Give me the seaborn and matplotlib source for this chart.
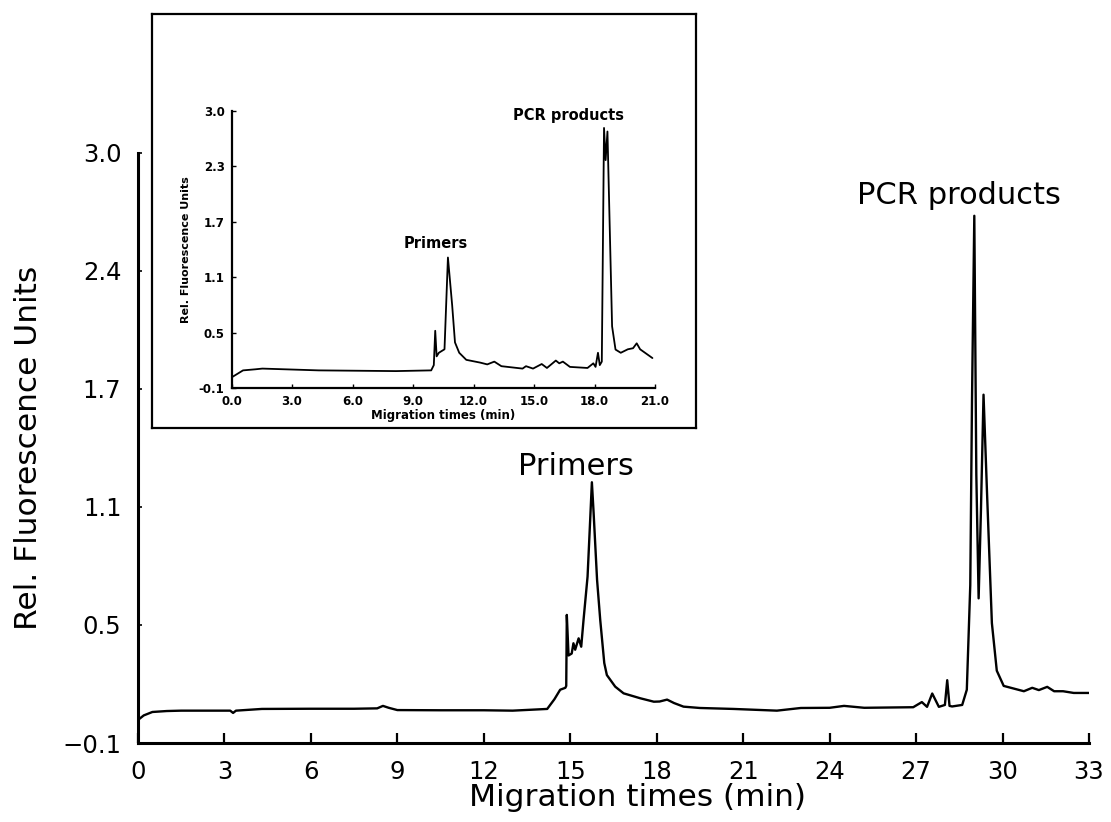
import matplotlib
matplotlib.use("Agg")
import matplotlib.pyplot as plt
import seaborn as sns

# main electropherogram (33 min run)
main_time = [0.0, 0.2, 0.5, 1.0, 1.5, 2.5, 3.2, 3.3, 3.4, 4.3, 6.0, 7.5, 8.3, 8.5, 8.7,
             9.0, 10.5, 12.0, 13.0, 14.2, 14.45, 14.65, 14.83, 14.86, 14.88, 14.94, 15.05,
             15.11, 15.17, 15.29, 15.38, 15.46, 15.6, 15.69, 15.75, 15.81, 15.93, 16.04,
             16.18, 16.27, 16.56, 16.85, 17.43, 17.9, 18.1, 18.36, 18.6, 18.93, 19.5, 20.66,
             22.17, 23.0, 24.0, 24.5, 25.2, 26.9, 27.2, 27.38, 27.56, 27.79, 28.0, 28.08,
             28.16, 28.25, 28.6, 28.76, 28.88, 28.94, 29.02, 29.09, 29.17, 29.25, 29.34,
             29.46, 29.63, 29.8, 30.04, 30.39, 30.74, 31.03, 31.26, 31.55, 31.79, 32.1,
             32.47, 33.0]
main_signal = [0.021, 0.045, 0.063, 0.068, 0.07, 0.07, 0.07, 0.058, 0.07, 0.079, 0.08, 0.08,
               0.082, 0.095, 0.085, 0.073, 0.072, 0.072, 0.07, 0.079, 0.13, 0.18, 0.19, 0.2,
               0.573, 0.36, 0.37, 0.424, 0.39, 0.45, 0.406, 0.546, 0.774, 1.07, 1.27, 1.11,
               0.757, 0.546, 0.32, 0.257, 0.196, 0.161, 0.135, 0.117, 0.118, 0.128, 0.11,
               0.091, 0.084, 0.079, 0.07, 0.084, 0.085, 0.095, 0.085, 0.088, 0.115, 0.09,
               0.16, 0.09, 0.1, 0.23, 0.095, 0.092, 0.1, 0.18, 0.73, 1.7, 2.67, 1.31, 0.66,
               1.12, 1.73, 1.22, 0.53, 0.28, 0.2, 0.186, 0.172, 0.19, 0.178, 0.195, 0.172,
               0.172, 0.163, 0.163]

# inset electropherogram (21 min run)
inset_time = [0.0, 0.57, 1.18, 1.53, 4.32, 8.15, 9.9, 10.03, 10.1, 10.17, 10.28, 10.56,
              10.73, 10.94, 11.08, 11.29, 11.64, 12.33, 12.68, 13.03, 13.38, 14.43, 14.6,
              14.95, 15.38, 15.64, 16.08, 16.25, 16.43, 16.78, 17.65, 17.94, 18.05, 18.17,
              18.26, 18.36, 18.47, 18.55, 18.64, 18.87, 19.04, 19.3, 19.65, 19.91, 20.09,
              20.26, 20.87]
inset_signal = [0.018, 0.097, 0.109, 0.117, 0.097, 0.089, 0.097, 0.156, 0.54, 0.254, 0.294,
                0.333, 1.36, 0.826, 0.41, 0.294, 0.215, 0.184, 0.164, 0.195, 0.144, 0.117,
                0.144, 0.117, 0.168, 0.124, 0.207, 0.176, 0.195, 0.136, 0.124, 0.176, 0.136,
                0.294, 0.156, 0.195, 2.81, 2.45, 2.77, 0.59, 0.33, 0.294, 0.333, 0.345, 0.4,
                0.333, 0.235]

main_xticks = list(range(0, 34, 3))
main_yticks = [-0.1, 0.52, 1.14, 1.76, 2.38, 3.0]
main_ytick_labels = ["\u22120.1", "0.5", "1.1", "1.7", "2.4", "3.0"]
inset_xticks = list(range(0, 22, 3))
inset_xtick_labels = ["0.0", "3.0", "6.0", "9.0", "12.0", "15.0", "18.0", "21.0"]
inset_yticks = [-0.1, 0.52, 1.14, 1.76, 2.38, 3.0]
inset_ytick_labels = ["-0.1", "0.5", "1.1", "1.7", "2.3", "3.0"]

sns.set_theme(style="ticks")
plt.rcParams["font.family"] = ["DejaVu Sans"]
plt.rcParams["text.color"] = "black"
plt.rcParams["axes.labelcolor"] = "black"

fig = plt.figure(figsize=(11.11, 8.22), dpi=100)

# main plot
ax = fig.add_axes([0.1242, 0.0961, 0.8560, 0.7178])
sns.lineplot(x=main_time, y=main_signal, ax=ax, color="black", linewidth=1.7,
             estimator=None, sort=False)
ax.set_xlim(0, 33)
ax.set_ylim(-0.1, 3.0)
ax.set_xticks(main_xticks)
ax.set_xticklabels([str(t) for t in main_xticks])
ax.set_yticks(main_yticks)
ax.set_yticklabels(main_ytick_labels)
ax.tick_params(axis="x", direction="in", length=7, width=1.6, pad=12, labelsize=17.5,
               colors="black")
ax.tick_params(axis="y", direction="in", length=3, width=1.2, pad=12, labelsize=17.5,
               colors="black")
for side in ["top", "right"]:
    ax.spines[side].set_visible(False)
for side in ["left", "bottom"]:
    ax.spines[side].set_linewidth(2.2)
    ax.spines[side].set_color("black")
ax.set_xlabel("Migration times (min)", fontsize=22.5)
ax.xaxis.set_label_coords(0.525, -0.068)
ax.set_ylabel("Rel. Fluorescence Units", fontsize=22.5)
ax.yaxis.set_label_coords(-0.1, 0.5)
ax.text(15.2, 1.31, "Primers", ha="center", va="baseline", fontsize=22)
ax.text(28.47, 2.73, "PCR products", ha="center", va="baseline", fontsize=22)

# inset frame
frame = fig.add_axes([0.1368, 0.4793, 0.4897, 0.5037])
frame.set_xticks([])
frame.set_yticks([])
frame.set_facecolor("white")
for s in frame.spines.values():
    s.set_linewidth(1.6)
    s.set_color("black")

# inset plot
ins = fig.add_axes([0.2084, 0.528, 0.3812, 0.337])
ins.patch.set_alpha(0)
sns.lineplot(x=inset_time, y=inset_signal, ax=ins, color="black", linewidth=1.3,
             estimator=None, sort=False)
ins.set_xlim(0, 21)
ins.set_ylim(-0.1, 3.0)
ins.set_xticks(inset_xticks)
ins.set_xticklabels(inset_xtick_labels, fontweight="bold")
ins.set_yticks(inset_yticks)
ins.set_yticklabels(inset_ytick_labels, fontweight="bold")
ins.tick_params(axis="both", direction="in", length=3, width=1, pad=5, labelsize=8.5,
                colors="black")
for side in ["top", "right"]:
    ins.spines[side].set_visible(False)
for side in ["left", "bottom"]:
    ins.spines[side].set_linewidth(1.6)
    ins.spines[side].set_color("black")
ins.set_xlabel("Migration times (min)", fontsize=8.5, fontweight="bold", labelpad=1)
ins.set_ylabel("Rel. Fluorescence Units", fontsize=8, fontweight="bold", labelpad=6)
ins.text(10.14, 1.47, "Primers", ha="center", va="baseline", fontsize=10.5,
         fontweight="bold")
ins.text(16.71, 2.9, "PCR products", ha="center", va="baseline", fontsize=10.5,
         fontweight="bold")

fig.savefig("out.png", dpi=100)
